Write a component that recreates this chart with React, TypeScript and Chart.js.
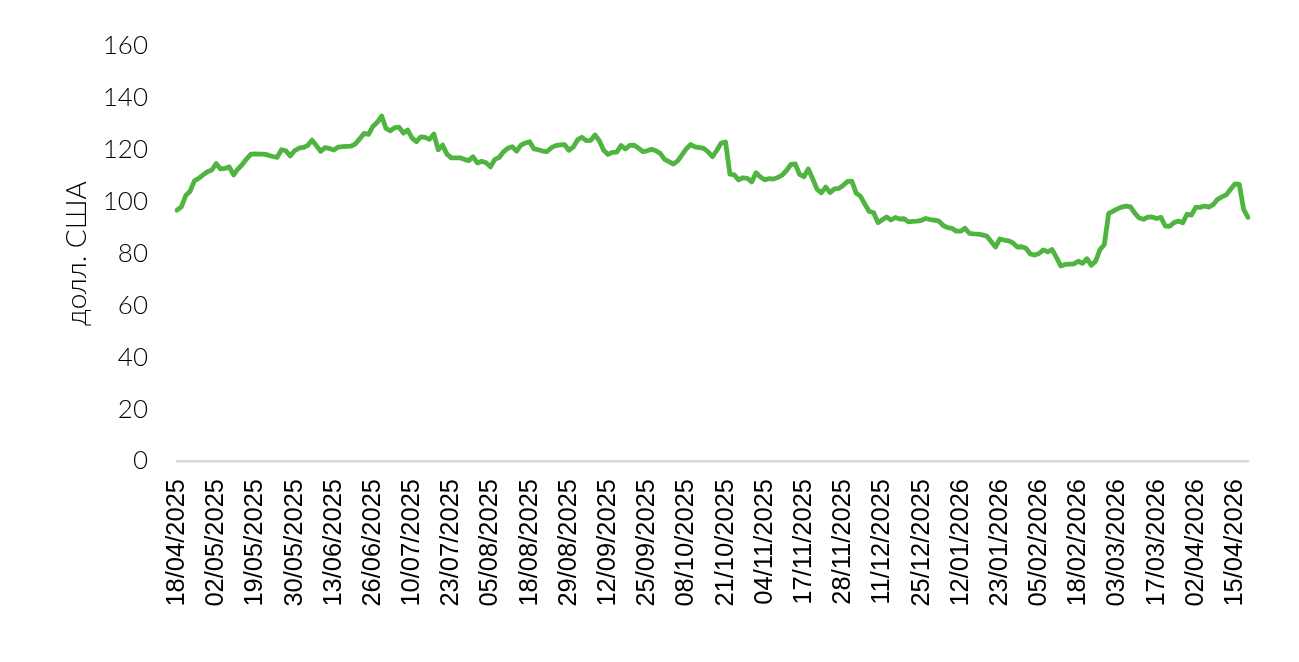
import React, { useEffect, useRef } from "react";
import { Chart, registerables } from "chart.js";

Chart.register(...registerables);

const tickLabels: string[] = [
  "18/04/2025", "02/05/2025", "19/05/2025", "30/05/2025", "13/06/2025", "26/06/2025",
  "10/07/2025", "23/07/2025", "05/08/2025", "18/08/2025", "29/08/2025", "12/09/2025",
  "25/09/2025", "08/10/2025", "21/10/2025", "04/11/2025", "17/11/2025", "28/11/2025",
  "11/12/2025", "25/12/2025", "12/01/2026", "23/01/2026", "05/02/2026", "18/02/2026",
  "03/03/2026", "17/03/2026", "02/04/2026", "15/04/2026",
];

const labelEvery = 9;

const values: number[] = [
  96.7, 98.0, 102.3, 104.0, 108.0, 109.0, 110.3, 111.5, 112.2,
  114.7, 112.6, 112.8, 113.4, 110.3, 112.6, 114.3, 116.5, 118.3,
  118.4, 118.3, 118.3, 117.9, 117.4, 117.1, 120.0, 119.6, 117.6,
  119.6, 120.6, 120.9, 121.6, 123.7, 121.6, 119.4, 120.8, 120.5,
  119.9, 121.0, 121.2, 121.3, 121.4, 122.3, 124.3, 126.3, 125.9,
  129.0, 130.6, 133.0, 128.2, 127.3, 128.5, 128.7, 126.4, 127.6,
  124.5, 123.1, 125.0, 124.8, 124.0, 126.1, 120.0, 121.8, 118.3,
  116.9, 116.9, 116.9, 116.3, 115.8, 117.3, 114.9, 115.6, 115.0,
  113.4, 116.3, 117.0, 119.2, 120.6, 121.2, 119.5, 121.8, 122.6,
  123.1, 120.3, 120.0, 119.5, 119.3, 120.8, 121.6, 121.9, 122.0,
  119.8, 121.0, 123.8, 124.8, 123.5, 123.6, 125.7, 123.5, 119.8,
  118.2, 119.0, 119.1, 121.6, 120.3, 121.7, 121.8, 120.6, 119.3,
  119.6, 120.2, 119.6, 118.6, 116.3, 115.4, 114.5, 115.7, 118.0,
  120.4, 122.0, 121.1, 120.8, 120.5, 119.2, 117.3, 119.8, 122.6,
  123.0, 110.6, 110.3, 108.4, 109.2, 109.0, 107.6, 111.1, 109.5,
  108.4, 108.9, 108.7, 109.3, 110.2, 112.0, 114.4, 114.5, 110.5,
  109.6, 112.6, 108.8, 104.8, 103.4, 105.6, 103.5, 104.9, 105.1,
  106.2, 107.8, 107.9, 103.3, 102.0, 99.0, 96.2, 95.8, 91.9,
  93.0, 94.1, 92.9, 93.9, 93.3, 93.4, 92.2, 92.4, 92.5,
  92.8, 93.5, 93.1, 92.9, 92.5, 90.8, 90.0, 89.7, 88.6,
  88.6, 89.7, 87.8, 87.6, 87.5, 87.2, 86.7, 84.6, 82.5,
  85.6, 85.2, 84.9, 84.1, 82.5, 82.6, 82.0, 79.8, 79.4,
  80.0, 81.4, 80.6, 81.5, 78.5, 75.2, 75.8, 75.9, 76.0,
  77.0, 76.2, 78.0, 75.5, 77.0, 81.5, 83.5, 95.5, 96.3,
  97.2, 97.9, 98.3, 98.0, 95.6, 93.7, 93.2, 94.0, 94.1,
  93.5, 93.9, 90.6, 90.5, 91.9, 92.5, 91.8, 95.2, 94.8,
  97.8, 97.8, 98.3, 97.9, 98.8, 100.9, 101.8, 102.6, 104.8,
  106.8, 106.6, 97.0, 93.9,
];

const yTitle = "долл. США";
const yMin = 0;
const yMax = 160;
const yStep = 20;

const categories: string[] = values.map((_, i) =>
  i % labelEvery === 0 && tickLabels[i / labelEvery] ? tickLabels[i / labelEvery] : ""
);

const W = 1299;
const H = 662;

export default function App() {
  const ref = useRef<HTMLCanvasElement | null>(null);

  useEffect(() => {
    if (!ref.current) return;
    const chart = new Chart(ref.current, {
      type: "line",
      data: {
        labels: categories,
        datasets: [
          {
            data: values,
            borderColor: "#50B440",
            backgroundColor: "#50B440",
            borderWidth: 4.8,
            pointRadius: 0,
            tension: 0,
            borderCapStyle: "round",
            borderJoinStyle: "round",
          },
        ],
      },
      options: {
        responsive: false,
        animation: false,
        events: [],
        layout: { padding: { top: 46, right: 51, bottom: 0, left: 0 } },
        plugins: {
          legend: { display: false },
          tooltip: { enabled: false },
        },
        scales: {
          x: {
            type: "category",
            offset: false,
            grid: { display: false, drawTicks: false },
            border: { display: true, color: "#D9D9D9", width: 2.5 },
            ticks: {
              autoSkip: false,
              maxRotation: 90,
              minRotation: 90,
              padding: 18,
              color: "#000000",
              font: { family: '"Liberation Sans", Arial, sans-serif', size: 25.5 },
              callback: (_v: any, i: number) => (categories[i] ? categories[i] : null),
            },
            afterFit: (s: any) => {
              s.height = H - 461;
            },
          },
          y: {
            min: yMin,
            max: yMax,
            grid: { display: false, drawTicks: false },
            border: { display: false },
            ticks: {
              stepSize: yStep,
              padding: 29,
              color: "#000000",
              font: { family: 'Lato, "Open Sans", sans-serif', size: 26, weight: "300" },
            },
            title: {
              display: true,
              text: yTitle,
              color: "#000000",
              font: { family: 'Lato, "Open Sans", sans-serif', size: 28, weight: "300" },
              padding: { top: 60, bottom: 0 },
            },
            afterFit: (s: any) => {
              s.width = 177;
            },
          },
        },
      },
    });
    return () => chart.destroy();
  }, []);

  return (
    <div style={{ position: "absolute", left: 0, top: 0, width: W, height: H, background: "#fff" }}>
      <canvas ref={ref} width={W} height={H} style={{ width: W, height: H, display: "block" }} />
    </div>
  );
}
